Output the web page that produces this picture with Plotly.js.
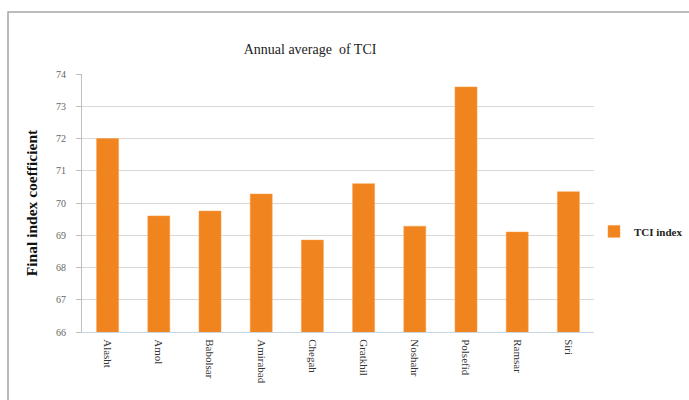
<!DOCTYPE html>
<html>
<head>
<meta charset="utf-8">
<script src="https://cdn.plot.ly/plotly-3.0.1.min.js"></script>
<style>
html,body{margin:0;padding:0;background:#fff;}
#chart{width:689px;height:400px;}
</style>
</head>
<body>
<div id="chart"></div>
<script>
const stations = ["Alasht","Amol","Babolsar","Amirabad","Chegah","Gratkhil","Noshahr","Polsefid","Ramsar","Siri"];
const tciValues = [72.0, 69.6, 69.75, 70.28, 68.85, 70.6, 69.28, 73.6, 69.1, 70.35];
const yTicks = [66, 67, 68, 69, 70, 71, 72, 73, 74];
const seriesName = "TCI index";

const serif = "Liberation Serif, Times New Roman, serif";

const trace = {
  type: "bar",
  x: stations,
  y: tciValues,
  name: seriesName,
  marker: {color: "#F0841F", line: {color: "#F7A04A", width: 0.5}},
  showlegend: true
};

const layout = {
  width: 689,
  height: 400,
  margin: {l: 82, r: 95, t: 74, b: 68, autoexpand: false},
  paper_bgcolor: "#fff",
  plot_bgcolor: "#fff",
  bargap: 0.57,
  title: {
    text: "Annual average  of TCI",
    font: {family: serif, size: 14, color: "#222"},
    x: 0.45, xanchor: "center",
    y: 0.877, yanchor: "middle"
  },
  xaxis: {
    type: "category",
    tickangle: 90,
    tickfont: {family: serif, size: 11, color: "#333"},
    showline: true,
    linecolor: "#c8d4e4",
    linewidth: 1,
    showgrid: false,
    ticks: "",
    ticklabelstandoff: 4,
    zeroline: false
  },
  yaxis: {
    range: [66, 74],
    tickvals: yTicks,
    ticktext: yTicks.map(String),
    tickfont: {family: serif, size: 10, color: "#666"},
    showgrid: true,
    gridcolor: "#d9d9d9",
    gridwidth: 1,
    showline: true,
    linecolor: "#bfbfbf",
    ticks: "outside",
    ticklen: 5,
    tickcolor: "#bfbfbf",
    ticklabelstandoff: 8,
    zeroline: false,
    title: {
      text: "Final index coefficient",
      font: {family: serif, size: 15.5, color: "#111", weight: "bold"},
      standoff: 14
    }
  },
  legend: {
    x: 1.0, xanchor: "left",
    y: 0.39, yanchor: "middle",
    font: {family: serif, size: 11, color: "#222", weight: "bold"},
    bgcolor: "rgba(0,0,0,0)",
    itemwidth: 30
  },
  shapes: [{
    type: "rect",
    xref: "paper", yref: "paper",
    x0: (8 - 82) / 512, x1: (720 - 82) / 512,
    y0: (68 - 420) / 258, y1: (332 - 12) / 258,
    line: {color: "#a6a6a6", width: 1.5},
    fillcolor: "rgba(0,0,0,0)",
    layer: "below"
  }]
};

Plotly.newPlot("chart", [trace], layout, {displayModeBar: false, staticPlot: true});
</script>
</body>
</html>
